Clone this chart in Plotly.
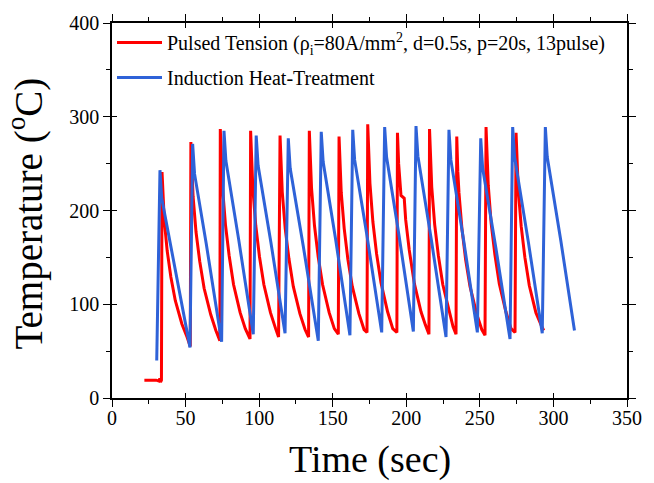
import plotly.graph_objects as go

# Pulsed Tension (red) - time (s), temperature (C)
red_time = [22.0, 30.0, 32.0, 32.5, 33.0, 33.6,
            34.0, 34.7, 35.5, 37.5, 40.0, 43.0, 47.5, 51.0, 53.2,
            53.6, 54.3, 55.1, 57.1, 59.6, 62.6, 67.1, 70.6, 73.3,
            73.6, 74.3, 75.1, 77.1, 79.6, 82.6, 87.1, 90.6, 93.8,
            94.2, 94.9, 95.7, 97.7, 100.2, 103.2, 107.7, 111.2, 113.2,
            114.2, 114.9, 115.7, 117.7, 120.2, 123.2, 127.7, 131.2, 133.6,
            134.1, 134.8, 135.6, 137.6, 140.1, 143.1, 147.6, 151.1, 153.8,
            154.3, 155.0, 155.8, 157.8, 160.3, 163.3, 167.8, 171.3, 173.3,
            173.8, 174.5, 175.3, 177.3, 179.8, 182.8, 187.3, 190.8, 193.6,
            194.0, 194.8, 196.4, 198.6, 199.6, 202.0, 205.5, 210.0, 213.0, 215.4,
            215.8, 216.5, 217.3, 219.3, 221.8, 224.8, 229.3, 231.8, 233.8,
            234.3, 235.0, 235.8, 237.8, 240.3, 243.3, 247.8, 251.3, 253.5,
            254.2, 254.9, 255.7, 257.7, 260.2, 263.2, 267.7, 271.2, 273.9,
            274.6, 275.3, 276.1, 278.1, 280.6, 283.6, 288.1, 291.6, 293.4]
red_temp = [19, 19, 18, 21, 17, 19,
            241, 210, 190, 157, 129, 104, 79, 65, 55,
            273, 237, 215, 177, 146, 117, 89, 72, 61,
            287, 249, 225, 185, 152, 121, 91, 74, 63,
            285, 247, 224, 184, 151, 121, 91, 74, 65,
            280, 243, 220, 181, 149, 119, 90, 73, 65,
            285, 247, 224, 184, 151, 121, 91, 74, 68,
            279, 242, 219, 181, 148, 119, 90, 73, 70,
            292, 253, 229, 188, 154, 123, 92, 74, 70,
            283, 250, 216, 213, 190, 158, 122, 92, 78, 68,
            287, 249, 225, 185, 152, 121, 91, 76, 68,
            279, 242, 219, 181, 148, 119, 90, 73, 67,
            289, 251, 227, 186, 153, 122, 92, 74, 70,
            283, 246, 222, 183, 150, 120, 91, 78, 72]

# Induction Heat-Treatment (blue)
blue_time = [30.4,
             32.6, 33.8, 43.5, 53.0,
             54.8, 56.1, 64.0, 74.5,
             76.1, 77.4, 86.0, 96.0,
             98.0, 99.3, 108.0, 117.6,
             119.8, 121.1, 130.0, 140.2,
             142.2, 143.5, 152.0, 161.7,
             163.6, 164.9, 173.0, 183.3,
             185.3, 186.6, 195.0, 204.8,
             206.6, 207.9, 217.0, 227.0,
             229.0, 230.3, 239.0, 248.3,
             250.6, 251.9, 261.0, 270.5,
             272.3, 273.6, 283.0, 292.4,
             294.5, 295.8, 305.0, 314.3]
blue_temp = [40,
             243, 213, 134, 54,
             271, 239, 165, 60,
             285, 253, 170, 68,
             280, 248, 166, 69,
             277, 245, 162, 61,
             284, 252, 169, 67,
             286, 254, 176, 70,
             289, 257, 174, 71,
             290, 258, 169, 65,
             286, 254, 168, 70,
             277, 245, 159, 63,
             289, 257, 166, 69,
             289, 257, 168, 72]

x_ticks = [0, 50, 100, 150, 200, 250, 300, 350]
y_ticks = [0, 100, 200, 300, 400]
x_range = [0, 350]
y_range = [0, 400]

FONT = "Liberation Serif"
RED = "#FF0000"
BLUE = "#2E62D8"

fig = go.Figure()
fig.add_trace(go.Scatter(
    x=red_time, y=red_temp, mode="lines",
    line=dict(color=RED, width=3),
    name="Pulsed Tension (\u03c1<sub>i</sub>=80A/mm<sup>2</sup>, d=0.5s, p=20s, 13pulse)",
    legendgroup="a"))
fig.add_trace(go.Scatter(
    x=blue_time, y=blue_temp, mode="lines",
    line=dict(color=BLUE, width=3),
    name="Induction Heat-Treatment", legendgroup="b"))
# empty trace to carry the inner tick marks axes
fig.add_trace(go.Scatter(x=[], y=[], xaxis="x2", yaxis="y2",
                         showlegend=False, hoverinfo="skip"))

axis_common = dict(
    showline=True, linecolor="black", linewidth=1.5, mirror="ticks",
    ticks="outside", ticklen=7, tickwidth=1.2, tickcolor="black",
    showgrid=False, zeroline=False,
    tickfont=dict(family=FONT, size=20, color="black"),
)
inner_common = dict(
    showline=True, linecolor="black", linewidth=1.5, mirror="ticks",
    ticks="inside", ticklen=5, tickwidth=1.2, tickcolor="black",
    showgrid=False, zeroline=False, showticklabels=False,
)

fig.update_layout(
    width=654, height=483,
    margin=dict(l=112, r=27, t=20, b=85),
    paper_bgcolor="white", plot_bgcolor="white",
    font=dict(family=FONT, color="black"),
    xaxis=dict(range=x_range, tickvals=x_ticks, ticklabelstandoff=-6,
               minor=dict(dtick=25, ticklen=4, ticks="outside", tickcolor="black"),
               **axis_common),
    yaxis=dict(range=y_range, tickvals=y_ticks,
               minor=dict(dtick=50, ticklen=4, ticks="outside", tickcolor="black"),
               **axis_common),
    xaxis2=dict(range=x_range, tickvals=x_ticks, overlaying="x", anchor="y2",
                **inner_common),
    yaxis2=dict(range=y_range, tickvals=y_ticks, overlaying="y", anchor="x2",
                **inner_common),
    legend=dict(x=0.0, y=1.0, xanchor="left", yanchor="top",
                bgcolor="rgba(0,0,0,0)", font=dict(family=FONT, size=20),
                itemwidth=45, traceorder="grouped", tracegroupgap=6),
    showlegend=True,
    annotations=[
        dict(text="Time (sec)", xref="paper", yref="paper", x=0.5, y=-0.164,
             xanchor="center", yanchor="middle", showarrow=False,
             font=dict(family=FONT, size=38, color="black")),
        dict(text="Temperature (<sup>o</sup>C)", xref="paper", yref="paper",
             x=-0.168, y=0.493, xanchor="center", yanchor="middle",
             textangle=-90, showarrow=False,
             font=dict(family=FONT, size=39, color="black")),
    ],
)

fig.write_html("out.html")
